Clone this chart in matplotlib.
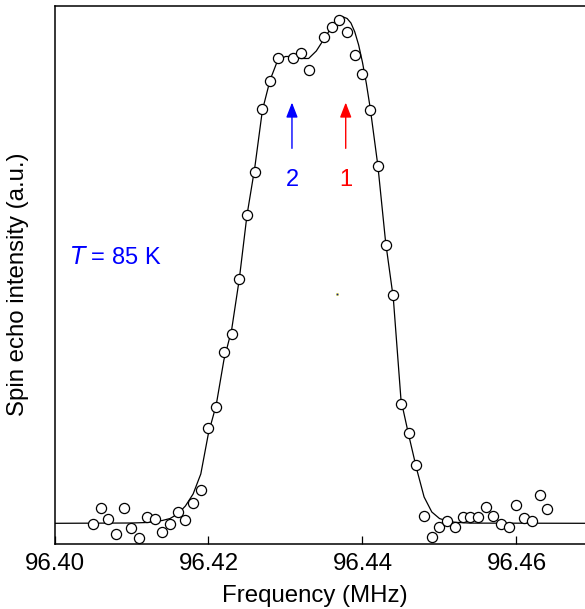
import matplotlib
matplotlib.use("Agg")
import matplotlib.pyplot as plt
import numpy as np

plt.rcParams['font.family'] = ['Liberation Sans', 'DejaVu Sans']

# measured data (frequency in MHz, spin-echo intensity in a.u.)
freq = [96.405, 96.406, 96.407, 96.408, 96.409, 96.410, 96.411, 96.412, 96.413,
        96.414, 96.415, 96.416, 96.417, 96.418, 96.419, 96.420, 96.421, 96.422,
        96.423, 96.424, 96.425, 96.426, 96.427, 96.428, 96.429, 96.431, 96.432,
        96.433, 96.435, 96.436, 96.437, 96.438, 96.439, 96.440, 96.441, 96.442,
        96.443, 96.444, 96.445, 96.446, 96.447, 96.448, 96.449, 96.450, 96.451,
        96.452, 96.453, 96.454, 96.455, 96.456, 96.457, 96.458, 96.459, 96.460,
        96.461, 96.462, 96.463, 96.464]
intensity = [-0.04, 3.10, 0.81, -2.19, 3.00, -0.89, -2.82, 1.19, 0.81,
             -1.77, -0.10, 2.28, 0.62, 3.97, 6.58, 18.84, 23.11, 34.04,
             37.71, 48.48, 61.30, 69.74, 82.28, 87.84, 92.41, 92.43, 93.44,
             90.07, 96.56, 98.67, 99.96, 97.52, 93.05, 89.27, 82.08, 71.03,
             55.34, 45.36, 23.80, 18.04, 11.54, 1.41, -2.66, -0.79, 0.52,
             -0.79, 1.29, 1.29, 1.29, 3.28, 1.39, -0.20, -0.74, 3.54,
             0.97, 0.42, 5.62, 2.88]

# fitted line
fit_x = [96.400, 96.410, 96.412, 96.414, 96.415, 96.416, 96.417, 96.418, 96.419,
         96.420, 96.421, 96.422, 96.423, 96.424, 96.425, 96.426, 96.427, 96.428,
         96.429, 96.430, 96.431, 96.432, 96.433, 96.434, 96.435, 96.436, 96.437,
         96.4375, 96.438, 96.4385, 96.439, 96.4395, 96.440, 96.4405, 96.441, 96.442,
         96.443, 96.444, 96.445, 96.446, 96.447, 96.448, 96.449, 96.450, 96.451,
         96.452, 96.454, 96.470]
fit_y = [0.0, 0.06, 0.16, 0.56, 0.95, 1.85, 3.44, 5.82, 9.80,
         17.94, 23.50, 32.45, 38.41, 48.54, 61.25, 70.56, 82.07, 88.08,
         92.05, 92.75, 92.75, 92.35, 92.35, 93.84, 96.22, 98.61, 100.30,
         100.60, 100.30, 99.40, 97.62, 95.03, 91.56, 87.38, 82.52, 71.0,
         55.89, 44.76, 24.5, 17.54, 10.99, 5.23, 2.25, 0.95, 0.46,
         0.20, 0.04, 0.0]

xticks = [96.40, 96.42, 96.44, 96.46]
xtick_labels = ["96.40", "96.42", "96.44", "96.46"]

arrow_freqs = [96.43782, 96.43084]
arrow_labels = ["1", "2"]
arrow_colors = ["#ff0000", "#0000ff"]

W, H = 585, 609
fig = plt.figure(figsize=(W / 100, H / 100), dpi=100)
ax = fig.add_axes([54.5 / W, 1 - 544.3 / H, 1 - 54.5 / W, (544.3 - 6) / H])

ax.plot(fit_x, fit_y, color='black', lw=0.9, zorder=2)
ax.plot(freq, intensity, 'o', ms=7.3, mfc='white', mec='black', mew=0.9, zorder=3)

# stray dot
ax.plot([96.43669], [45.56], 'o', ms=1.6, mfc='#0000cc', mec='#dddd00', mew=0.4, zorder=3)

ax.set_xlim(96.40, 96.40 + (W - 54.5) / 7700)
ax.set_ylim(-4.17, 102.78)

for fx, lab, col in zip(arrow_freqs, arrow_labels, arrow_colors):
    ax.annotate('', xy=(fx, 83.6), xytext=(fx, 74.5),
                arrowprops=dict(arrowstyle='-|>,head_width=0.35,head_length=0.9',
                                color=col, lw=1.0, shrinkA=0, shrinkB=0))
    ax.text(fx, 68.2, lab, color=col, fontsize=17, ha='center', va='center')

ax.text(96.4020, 52.7, r'$\it{T}$ = 85 K', color='#0000ff', fontsize=17,
        ha='left', va='center')

ax.set_xticks(xticks)
ax.set_xticklabels(xtick_labels, fontsize=17.3)
ax.tick_params(axis='x', direction='in', length=6, width=0.9, pad=6)
ax.set_yticks([])
ax.spines['right'].set_visible(False)
for s in ['left', 'top', 'bottom']:
    ax.spines[s].set_linewidth(1.1)

fig.text(315 / W, 1 - 596 / H, 'Frequency (MHz)', fontsize=17.3, ha='center', va='center')
fig.text(18 / W, 1 - 284 / H, 'Spin echo intensity (a.u.)', fontsize=17.3,
         ha='center', va='center', rotation=90)

fig.savefig('out.png', dpi=100)
